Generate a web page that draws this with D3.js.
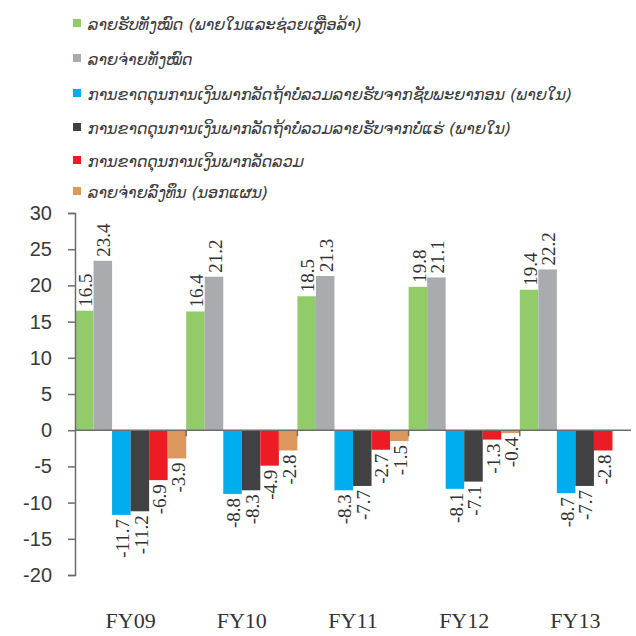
<!DOCTYPE html>
<html><head><meta charset="utf-8">
<script src="https://cdn.jsdelivr.net/npm/d3@7"></script>
<style>body{margin:0;background:#fff}</style>
</head><body><svg id="c" width="636" height="636"></svg>
<script>
const categories = ["FY09","FY10","FY11","FY12","FY13"];
const seriesNames = [
  "ລາຍຮັບທັງໝົດ (ພາຍໃນແລະຊ່ວຍເຫຼືອລ້າ)",
  "ລາຍຈ່າຍທັງໝົດ",
  "ການຂາດດຸນການເງິນພາກລັດຖ້າບໍ່ລວມລາຍຮັບຈາກຊັບພະຍາກອນ (ພາຍໃນ)",
  "ການຂາດດຸນການເງິນພາກລັດຖ້າບໍ່ລວມລາຍຮັບຈາກບໍ່ແຮ່ (ພາຍໃນ)",
  "ການຂາດດຸນການເງິນພາກລັດລວມ",
  "ລາຍຈ່າຍລົງທຶນ (ນອກແຜນ)"
];
const seriesColors = ["#92cc6a","#a9abae","#00aeef","#414143","#ed1c24","#dc985c"];
const totalRevenue = [16.5, 16.4, 18.5, 19.8, 19.4];
const totalExpenditure = [23.4, 21.2, 21.3, 21.1, 22.2];
const deficitExResources = [-11.7, -8.8, -8.3, -8.1, -8.7];
const deficitExMining = [-11.2, -8.3, -7.7, -7.1, -7.7];
const overallDeficit = [-6.9, -4.9, -2.7, -1.3, -2.8];
const capitalExpOffPlan = [-3.9, -2.8, -1.5, -0.4, null];
const yTicks = [-20,-15,-10,-5,0,5,10,15,20,25,30];

const seriesValues = [totalRevenue,totalExpenditure,deficitExResources,deficitExMining,overallDeficit,capitalExpOffPlan];
const hy = s => s.replace(/\u2212/g, "-");
const svg = d3.select("#c");
const x = d3.scaleBand().domain(categories).range([75, 631]).padding(0);
const x1 = d3.scaleBand().domain(d3.range(seriesNames.length)).range([0, x.bandwidth()]).padding(0);
const y = d3.scaleLinear().domain([-20, 30]).range([575, 213]);

// bars
const g = svg.append("g");
seriesValues.forEach((vals, si) => {
  categories.forEach((c, ci) => {
    const v = vals[ci];
    if (v == null) return;
    g.append("rect")
      .attr("x", x(c) + x1(si))
      .attr("width", x1.bandwidth())
      .attr("y", y(Math.max(0, v)))
      .attr("height", Math.abs(y(v) - y(0)))
      .attr("fill", seriesColors[si]);
  });
});

// zero axis
svg.append("line").attr("x1", 75).attr("x2", 631).attr("y1", y(0)).attr("y2", y(0))
  .attr("stroke", "#6d6d6d").attr("stroke-width", 1.5);
// category boundary ticks
categories.slice(1).forEach(c => {
  svg.append("line").attr("x1", x(c)).attr("x2", x(c)).attr("y1", y(0)).attr("y2", y(0)+6)
    .attr("stroke", "#6d6d6d").attr("stroke-width", 1.5);
});

// labels
seriesValues.forEach((vals, si) => {
  categories.forEach((c, ci) => {
    const v = vals[ci];
    if (v == null) return;
    const cx = x(c) + x1(si) + x1.bandwidth()/2 + 1;
    const yy = v >= 0 ? y(v) - 4 : y(v) + 4;
    svg.append("text")
      .attr("transform", `translate(${cx},${yy}) rotate(-90)`)
      .attr("text-anchor", v >= 0 ? "start" : "end")
      .attr("dy", "0.35em")
      .attr("font-family", "Liberation Serif, serif")
      .attr("font-size", 19)
      .attr("fill", "#333")
      .text(hy(d3.format(".1f")(v)));
  });
});

// y axis
const yAxis = d3.axisLeft(y).tickValues(yTicks).tickSize(7).tickSizeOuter(7).tickPadding(16)
  .tickFormat(d => hy(d3.format("d")(d)));
const ya = svg.append("g").attr("transform", "translate(75,0)").call(yAxis);
ya.select(".domain").attr("stroke", "#6d6d6d").attr("stroke-width", 1.5);
ya.selectAll(".tick line").attr("stroke", "#6d6d6d").attr("stroke-width", 1.5);
ya.selectAll("text").attr("font-family", "Liberation Sans, sans-serif").attr("font-size", 20).attr("fill", "#3a3a3a");

// x labels
svg.append("g").selectAll("text").data(categories).join("text")
  .attr("x", d => x(d) + x.bandwidth()/2)
  .attr("y", 628)
  .attr("text-anchor", "middle")
  .attr("font-family", "Liberation Serif, serif")
  .attr("font-size", 22)
  .attr("fill", "#333")
  .text(d => d);

// legend
const legendY = [25, 60, 95, 129, 162, 193];
const lg = svg.append("g");
seriesNames.forEach((n, i) => {
  lg.append("rect").attr("x", 73).attr("y", legendY[i]-6).attr("width", 8).attr("height", 8).attr("fill", seriesColors[i]);
  lg.append("text").attr("x", 88).attr("y", legendY[i]).attr("dy", "0.3em")
    .attr("font-family", "DejaVu Sans, sans-serif").attr("font-style", "italic")
    .attr("font-size", 16).attr("fill", "#3a3a3a").text(n);
});
</script></body></html>
